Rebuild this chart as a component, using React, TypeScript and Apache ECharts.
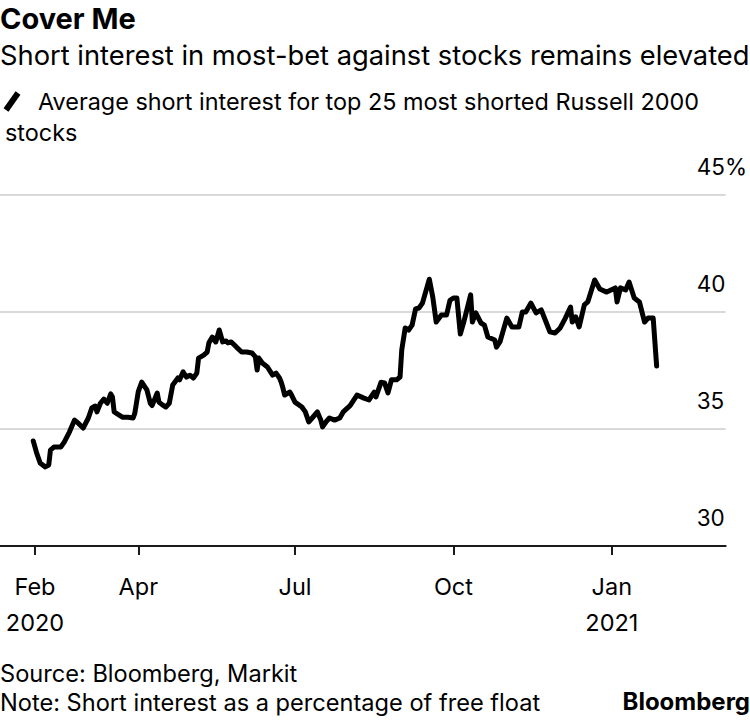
import React, { useEffect, useRef } from 'react';
import * as echarts from 'echarts';

const dates = [
  '2020-01-31','2020-02-02','2020-02-03','2020-02-04','2020-02-07','2020-02-09','2020-02-10','2020-02-12','2020-02-16','2020-02-18',
  '2020-02-21','2020-02-24','2020-02-26','2020-02-29','2020-03-03','2020-03-05','2020-03-07','2020-03-08','2020-03-10','2020-03-12',
  '2020-03-14','2020-03-16','2020-03-17','2020-03-18','2020-03-20','2020-03-23','2020-03-26','2020-03-29','2020-03-30',
  '2020-04-01','2020-04-03','2020-04-06','2020-04-08','2020-04-09','2020-04-12','2020-04-13','2020-04-15','2020-04-17','2020-04-19',
  '2020-04-21','2020-04-24','2020-04-25','2020-04-27','2020-04-29','2020-05-01','2020-05-03','2020-05-05','2020-05-06','2020-05-09',
  '2020-05-11','2020-05-12','2020-05-14','2020-05-16','2020-05-18','2020-05-20','2020-05-22','2020-05-23','2020-05-25','2020-05-28',
  '2020-05-31','2020-06-03','2020-06-06','2020-06-08','2020-06-09','2020-06-10','2020-06-12','2020-06-15','2020-06-18','2020-06-20',
  '2020-06-22','2020-06-23','2020-06-24','2020-06-25','2020-06-28','2020-06-29',
  '2020-07-01','2020-07-05','2020-07-07','2020-07-09','2020-07-11','2020-07-14','2020-07-16','2020-07-17','2020-07-19','2020-07-21',
  '2020-07-24','2020-07-27','2020-07-29','2020-08-02','2020-08-06','2020-08-10','2020-08-13','2020-08-16','2020-08-17','2020-08-20',
  '2020-08-22','2020-08-24','2020-08-26','2020-08-29','2020-08-31','2020-09-01','2020-09-03','2020-09-05','2020-09-07','2020-09-09',
  '2020-09-11','2020-09-13','2020-09-17','2020-09-19','2020-09-21','2020-09-24','2020-09-27','2020-09-29',
  '2020-10-01','2020-10-03','2020-10-05','2020-10-07','2020-10-11','2020-10-12','2020-10-14','2020-10-17','2020-10-19','2020-10-21',
  '2020-10-25','2020-10-26','2020-10-28','2020-11-01','2020-11-04','2020-11-08','2020-11-10','2020-11-12','2020-11-15','2020-11-18',
  '2020-11-21','2020-11-24','2020-11-26','2020-11-29','2020-12-02','2020-12-05','2020-12-08','2020-12-09','2020-12-11','2020-12-13',
  '2020-12-16','2020-12-18','2020-12-22','2020-12-25','2020-12-29',
  '2021-01-03','2021-01-04','2021-01-06','2021-01-09','2021-01-11','2021-01-14','2021-01-17','2021-01-20','2021-01-22','2021-01-25',
  '2021-01-27',
];

const values = [
  34.49, 33.97, 33.76, 33.55, 33.38, 33.46, 34.1, 34.23, 34.23, 34.44,
  34.87, 35.38, 35.26, 35.04, 35.47, 35.9, 35.98, 35.73, 36.1, 36.28,
  36.1, 36.5, 36.37, 35.73, 35.64, 35.5, 35.5, 35.47, 35.68,
  36.6, 37.0, 36.67, 36.1, 36.0, 36.54, 36.15, 36.03, 35.94, 36.1,
  36.88, 37.18, 37.1, 37.44, 37.22, 37.3, 37.18, 37.39, 38.03, 38.16,
  38.29, 38.68, 38.93, 38.72, 39.23, 38.72, 38.76, 38.68, 38.72, 38.5,
  38.29, 38.29, 38.25, 38.08, 37.52, 38.03, 37.82, 37.65, 37.3, 37.39,
  37.18, 37.0, 36.75, 36.45, 36.58, 36.45,
  36.15, 35.94, 35.73, 35.3, 35.47, 35.73, 35.38, 35.09, 35.3, 35.47,
  35.38, 35.47, 35.73, 36.0, 36.45, 36.32, 36.24, 36.58, 36.37, 37.0,
  36.97, 36.54, 37.1, 37.1, 37.22, 38.38, 39.32, 39.23, 39.44, 40.13,
  40.17, 40.38, 41.4, 40.64, 39.57, 39.87, 39.87, 40.5,
  40.6, 40.6, 39.06, 39.57, 40.73, 39.57, 39.96, 39.53, 39.44, 38.93,
  38.8, 38.5, 38.72, 39.74, 39.36, 39.36, 40.0, 40.0, 40.38, 39.96,
  40.09, 39.53, 39.15, 39.1, 39.32, 39.74, 40.21, 39.57, 39.79, 39.36,
  40.3, 40.43, 41.37, 40.98, 40.85,
  41.03, 40.43, 41.03, 40.94, 41.28, 40.6, 40.43, 39.57, 39.74, 39.74,
  37.69,
];

const tickDates = ['2020-02-01', '2020-04-01', '2020-07-01', '2020-10-01', '2021-01-01'];
const tickLabels = ['Feb\n2020', 'Apr', 'Jul', 'Oct', 'Jan\n2021'];
const yMin = 30;
const yMax = 45;
const yStep = 5;

const titleText = 'Cover Me';
const subtitleText = 'Short interest in most-bet against stocks remains elevated';
const legendLine1 = 'Average short interest for top 25 most shorted Russell 2000';
const legendLine2 = 'stocks';
const sourceText = 'Source: Bloomberg, Markit';
const noteText = 'Note: Short interest as a percentage of free float';
const brandText = 'Bloomberg';

function ts(s: string): number {
  const [y, m, d] = s.split('-').map(Number);
  return new Date(y, m - 1, d).getTime();
}

export default function App() {
  const ref = useRef<HTMLDivElement>(null);
  useEffect(() => {
    document.body.style.margin = '0';
    const chart = echarts.init(ref.current!, null, { renderer: 'svg' });
    const DAY = 86400000;
    const tickTimes = tickDates.map(ts);
    const font = 'Inter, "Liberation Sans", sans-serif';
    const seriesData = dates.map((d, i) => [ts(d), values[i]]);
    const labelFor = (v: number) => {
      let best = -1;
      let bd = Infinity;
      tickTimes.forEach((t, i) => {
        const dd = Math.abs(t - v);
        if (dd < bd) { bd = dd; best = i; }
      });
      return bd < DAY ? tickLabels[best] : '';
    };
    chart.setOption({
      animation: false,
      backgroundColor: '#fff',
      grid: { left: 0, right: 23, top: 195, bottom: 176, containLabel: false },
      xAxis: {
        type: 'value',
        min: ts('2020-02-01') - 20.3 * DAY,
        max: ts('2020-02-01') + 401.1 * DAY,
        axisLine: { show: true, lineStyle: { color: '#1a1a1a', width: 2 } },
        axisTick: { show: true, length: 9, lineStyle: { color: '#1a1a1a', width: 2 }, customValues: tickTimes },
        axisLabel: {
          customValues: tickTimes,
          formatter: (v: number) => labelFor(v),
          fontSize: 23.5,
          fontFamily: font,
          color: '#000',
          lineHeight: 36,
          margin: 22,
        },
        splitLine: { show: false },
      },
      yAxis: {
        type: 'value',
        position: 'right',
        min: yMin,
        max: yMax,
        interval: yStep,
        axisLine: { show: false },
        axisTick: { show: false },
        splitLine: { show: true, lineStyle: { color: '#d9d9d9', width: 2 } },
        axisLabel: {
          align: 'left',
          verticalAlign: 'bottom',
          margin: -29,
          padding: [0, 0, 17, 0],
          fontSize: 22.5,
          fontFamily: font,
          color: '#000',
          formatter: (v: number) => (v === yMax ? `${v}%` : String(v)),
        },
      },
      series: [
        {
          type: 'line',
          data: seriesData,
          showSymbol: false,
          symbol: 'none',
          lineStyle: { color: '#000', width: 5, join: 'round', cap: 'round' },
          z: 5,
        },
      ],
      graphic: [
        { type: 'text', left: 0, top: 4, style: { text: titleText, fontSize: 29, fontWeight: 'bold', fontFamily: font, fill: '#000' } },
        { type: 'text', left: 0, top: 42, style: { text: subtitleText, fontSize: 27.3, fontFamily: font, fill: '#000' } },
        { type: 'line', shape: { x1: 6, y1: 110, x2: 18, y2: 93 }, style: { stroke: '#000', lineWidth: 6 } },
        { type: 'text', left: 38, top: 90, style: { text: legendLine1, fontSize: 23.4, fontFamily: font, fill: '#000' } },
        { type: 'text', left: 5, top: 121, style: { text: legendLine2, fontSize: 23.4, fontFamily: font, fill: '#000' } },
        { type: 'text', left: 0, top: 661, style: { text: sourceText, fontSize: 23.6, fontFamily: font, fill: '#000' } },
        { type: 'text', left: 0, top: 690, style: { text: noteText, fontSize: 23.6, fontFamily: font, fill: '#000' } },
        { type: 'text', right: 0, top: 689, style: { text: brandText, fontSize: 24, fontWeight: 'bold', fontFamily: font, fill: '#000' } },
      ],
    });
    return () => chart.dispose();
  }, []);
  return <div ref={ref} style={{ width: 750, height: 722 }} />;
}
